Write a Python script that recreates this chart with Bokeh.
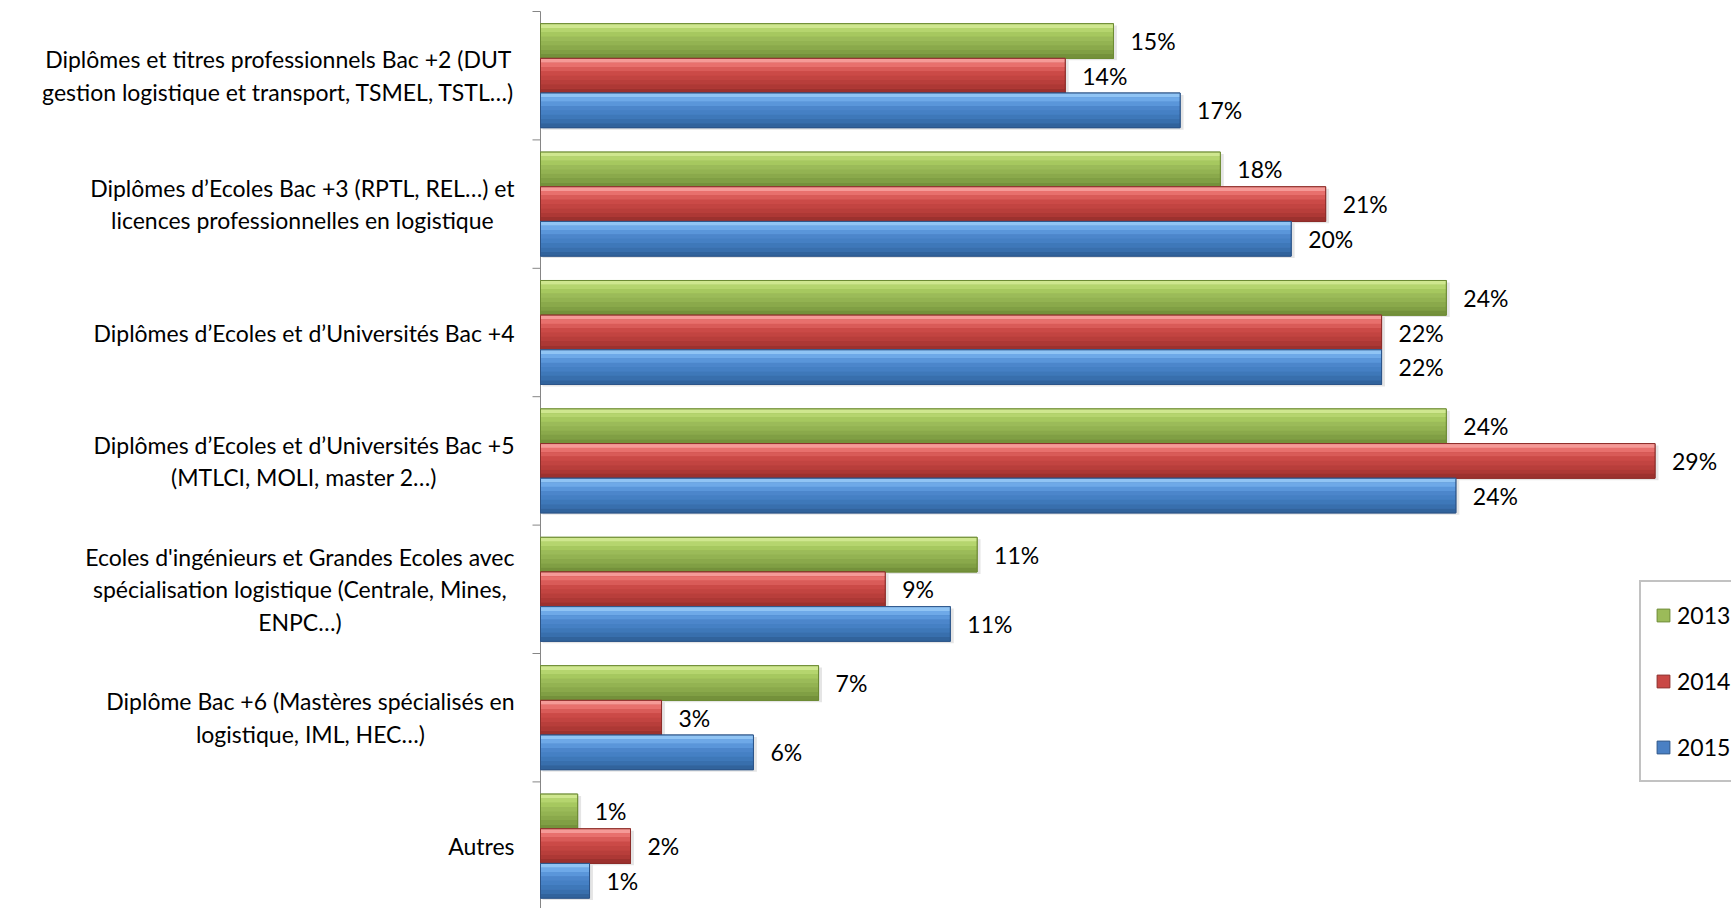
import math
from bokeh.plotting import figure
from bokeh.models import ColumnDataSource, Range1d, Legend, LegendItem
from bokeh.transform import dodge
from bokeh.core.properties import value
from bokeh.embed import file_html
from bokeh.resources import INLINE

categories = [
    "Diplômes et titres professionnels Bac +2 (DUT\ngestion logistique et transport, TSMEL, TSTL…)",
    "Diplômes d’Ecoles Bac +3 (RPTL, REL…) et\nlicences professionnelles en logistique",
    "Diplômes d’Ecoles et d’Universités Bac +4",
    "Diplômes d’Ecoles et d’Universités Bac +5\n(MTLCI, MOLI, master 2…)",
    "Ecoles d'ingénieurs et Grandes Ecoles avec\nspécialisation logistique (Centrale, Mines,\nENPC…)",
    "Diplôme Bac +6 (Mastères spécialisés en\nlogistique, IML, HEC…)",
    "Autres",
]
years = ["2013", "2014", "2015"]
v2013 = [14.96, 17.75, 23.65, 23.65, 11.4, 7.26, 0.97]
v2014 = [13.7, 20.5, 21.96, 29.1, 9.0, 3.16, 2.35]
v2015 = [16.7, 19.6, 21.96, 23.9, 10.7, 5.56, 1.28]
labels2013 = ["15%", "18%", "24%", "24%", "11%", "7%", "1%"]
labels2014 = ["14%", "21%", "22%", "29%", "9%", "3%", "2%"]
labels2015 = ["17%", "20%", "22%", "24%", "11%", "6%", "1%"]

series_vals = [v2013, v2014, v2015]
series_lbls = [labels2013, labels2014, labels2015]
main_colors = ["#9bbb59", "#c94845", "#4a80c4"]
border_colors = ["#6c8a33", "#8c2d2a", "#2c5488"]
# vertical gradient strips (top to bottom) that imitate the bevelled look
gradients = [
    ["#cfe78f", "#b5d56e", "#a6c85f", "#9bbb59", "#93b352", "#8aa94b", "#809f44", "#74913b"],
    ["#f59a97", "#e8706d", "#d95b58", "#cb4a47", "#c24441", "#b83e3b", "#ad3835", "#9c312e"],
    ["#90c4f4", "#6ea9e8", "#5a96da", "#4c86cb", "#4580c4", "#3e78b9", "#386fad", "#31639c"],
]

FONT = "Lato"
n = len(categories)
BAR_H = 0.27
PX_Y = 128.4      # pixels per category band
PX_X = 38.3       # pixels per percent
W, H = 1731, 908
AXIS_X = 540      # pixel position of the category axis
TOP = 11          # pixel position of the top of the first band

top_val = n - 0.5
p = figure(width=W, height=H, output_backend="svg", toolbar_location=None,
           x_range=Range1d(-AXIS_X / PX_X, (W - AXIS_X) / PX_X),
           y_range=Range1d(top_val - (H - TOP) / PX_Y, top_val + TOP / PX_Y),
           x_axis_location=None, y_axis_location=None,
           min_border_left=0, min_border_right=0, min_border_top=0, min_border_bottom=0)
p.outline_line_color = None
p.grid.visible = False
p.background_fill_color = "white"
p.border_fill_color = "white"

# category axis: line and ticks at band boundaries
bounds = [i - 0.5 for i in range(n + 1)]
p.segment(x0=[0], y0=[min(bounds)], x1=[0], y1=[max(bounds)], line_color="#868686", line_width=1)
p.ray(x=[0] * len(bounds), y=bounds, length=8, length_units="screen", angle=math.pi,
      line_color="#868686", line_width=1)

ypos = [n - 1 - i for i in range(n)]

base_renderers = []
for j, (vals, lbls) in enumerate(zip(series_vals, series_lbls)):
    off = (1 - j) * BAR_H
    src = ColumnDataSource(dict(y=[y + off for y in ypos], v=vals, lbl=lbls))
    # soft shadow
    p.hbar(y=dodge("y", -0.015, range=p.y_range), left=0.05, right=dodge("v", 0.09, range=p.x_range),
           height=BAR_H, source=src, fill_color="#000000", fill_alpha=0.10, line_color=None)
    r = p.hbar(y="y", left=0, right="v", height=BAR_H, source=src,
               fill_color=main_colors[j], line_color=border_colors[j], line_width=1)
    base_renderers.append(r)
    strips = gradients[j]
    k = len(strips)
    sh = BAR_H / k
    for s, col in enumerate(strips):
        shift = BAR_H / 2 - sh * (s + 0.5)
        p.hbar(y=dodge("y", shift, range=p.y_range), left=0, right="v", height=sh * 1.02,
               source=src, fill_color=col, line_color=None)
    p.hbar(y="y", left=0, right="v", height=BAR_H, source=src,
           fill_color=None, line_color=border_colors[j], line_width=1)
    p.text(x="v", y="y", text="lbl", source=src, x_offset=17, text_baseline="middle",
           text_align="left", text_font=value(FONT), text_font_size="23px", text_color="black")

# category labels
cat_src = ColumnDataSource(dict(x=[0] * n, y=ypos, text=categories))
p.text(x="x", y="y", text="text", source=cat_src, x_offset=-26, anchor="center_right",
       text_align="center", text_baseline="middle", text_font=value(FONT),
       text_font_size="23px", text_color="black", text_line_height=1.17)

legend = Legend(items=[LegendItem(label=yr, renderers=[r]) for yr, r in zip(years, base_renderers)],
                location=(1639, 126), orientation="vertical",
                border_line_color="#868686", border_line_width=2, background_fill_color="white",
                background_fill_alpha=1.0, padding=14, spacing=28, margin=0,
                glyph_width=16, glyph_height=16, label_standoff=6, label_height=38,
                label_text_font=FONT, label_text_font_size="23px", label_text_color="black")
p.add_layout(legend)

open("out.html", "w").write(file_html(p, INLINE))
